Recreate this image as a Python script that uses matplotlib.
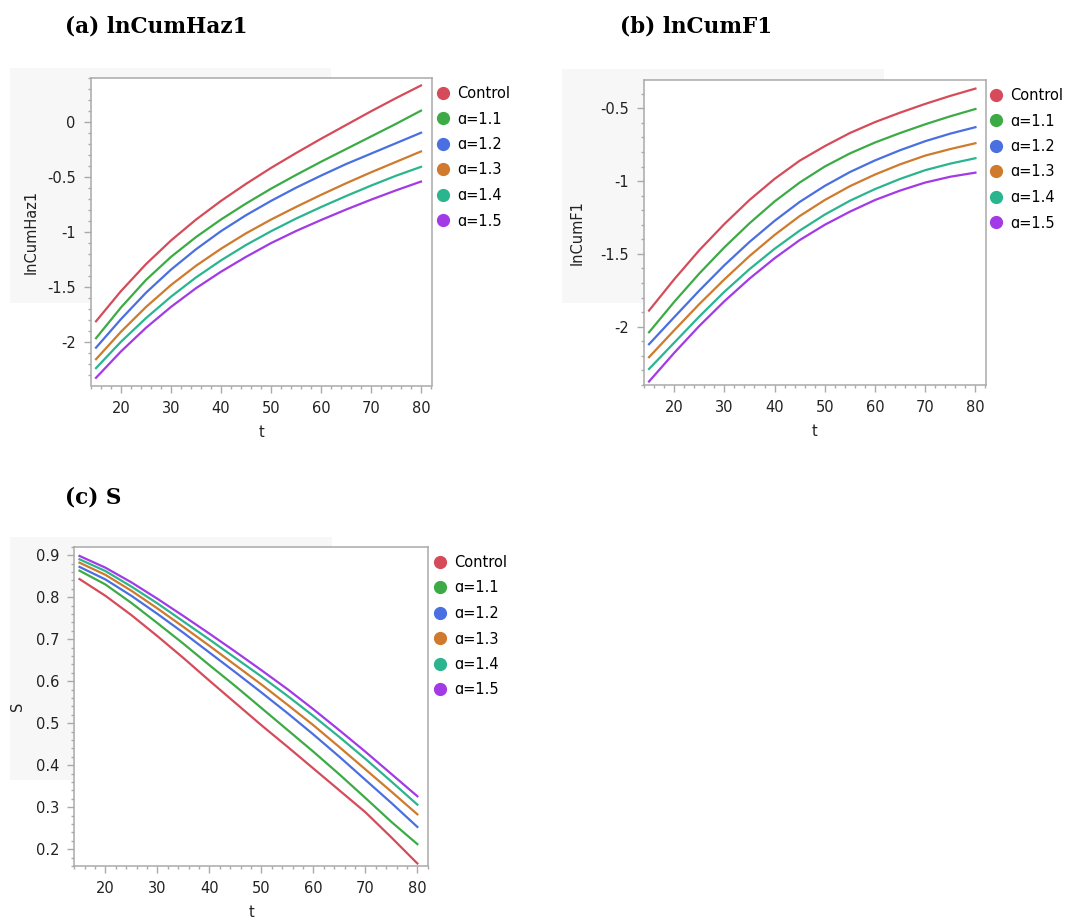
import matplotlib
matplotlib.use("Agg")
import matplotlib.pyplot as plt
from matplotlib.lines import Line2D
from matplotlib.patches import Rectangle
from matplotlib.ticker import MultipleLocator

# time grid
t = [15, 20, 25, 30, 35, 40, 45, 50, 55, 60, 65, 70, 75, 80]

labels = ["Control", "\u0251=1.1", "\u0251=1.2", "\u0251=1.3", "\u0251=1.4", "\u0251=1.5"]
colors = ["#d64b5a", "#3cab46", "#4a6fe0", "#cf7a2c", "#2ab58e", "#a23ae6"]

# (a) lnCumHaz1
haz_control = [-1.81, -1.535, -1.29, -1.075, -0.885, -0.715, -0.56, -0.415, -0.28, -0.15, -0.025, 0.10, 0.22, 0.335]
haz_a11 = [-1.964, -1.684, -1.434, -1.224, -1.044, -0.884, -0.739, -0.604, -0.479, -0.359, -0.244, -0.129, -0.014, 0.106]
haz_a12 = [-2.05, -1.79, -1.55, -1.34, -1.155, -0.99, -0.845, -0.715, -0.595, -0.485, -0.38, -0.285, -0.19, -0.095]
haz_a13 = [-2.155, -1.905, -1.68, -1.48, -1.305, -1.15, -1.01, -0.885, -0.77, -0.66, -0.555, -0.455, -0.36, -0.265]
haz_a14 = [-2.236, -1.996, -1.781, -1.586, -1.411, -1.256, -1.116, -0.991, -0.876, -0.771, -0.671, -0.576, -0.486, -0.405]
haz_a15 = [-2.324, -2.084, -1.869, -1.679, -1.509, -1.359, -1.224, -1.099, -0.989, -0.889, -0.794, -0.704, -0.619, -0.539]

# (b) lnCumF1
f_control = [-1.889, -1.675, -1.475, -1.295, -1.13, -0.985, -0.86, -0.76, -0.67, -0.595, -0.53, -0.47, -0.415, -0.365]
f_a11 = [-2.038, -1.83, -1.635, -1.455, -1.29, -1.14, -1.01, -0.90, -0.81, -0.735, -0.67, -0.61, -0.555, -0.505]
f_a12 = [-2.12, -1.935, -1.752, -1.578, -1.418, -1.273, -1.143, -1.033, -0.938, -0.858, -0.788, -0.726, -0.674, -0.63]
f_a13 = [-2.209, -2.025, -1.845, -1.675, -1.515, -1.37, -1.24, -1.13, -1.035, -0.955, -0.885, -0.825, -0.78, -0.74]
f_a14 = [-2.29, -2.11, -1.93, -1.76, -1.605, -1.465, -1.34, -1.23, -1.135, -1.055, -0.985, -0.925, -0.88, -0.843]
f_a15 = [-2.376, -2.18, -1.995, -1.825, -1.67, -1.53, -1.405, -1.30, -1.21, -1.13, -1.065, -1.01, -0.97, -0.942]

# (c) S
s_control = [0.843, 0.803, 0.757, 0.707, 0.655, 0.601, 0.548, 0.495, 0.444, 0.392, 0.34, 0.288, 0.228, 0.166]
s_a11 = [0.863, 0.830, 0.786, 0.738, 0.689, 0.638, 0.588, 0.536, 0.484, 0.432, 0.378, 0.322, 0.265, 0.212]
s_a12 = [0.872, 0.842, 0.803, 0.760, 0.715, 0.668, 0.621, 0.573, 0.524, 0.473, 0.420, 0.365, 0.310, 0.253]
s_a13 = [0.882, 0.853, 0.815, 0.773, 0.729, 0.684, 0.638, 0.592, 0.544, 0.495, 0.443, 0.390, 0.337, 0.283]
s_a14 = [0.890, 0.862, 0.825, 0.785, 0.742, 0.699, 0.655, 0.611, 0.565, 0.517, 0.467, 0.415, 0.361, 0.306]
s_a15 = [0.898, 0.870, 0.835, 0.796, 0.755, 0.713, 0.670, 0.626, 0.581, 0.533, 0.483, 0.432, 0.379, 0.326]

W, H = 1071, 922
TICK_FS = 10.5
GRID = "#aaaaaa"


def px_axes(fig, left, top, right, bottom):
    ax = fig.add_axes([left / W, 1 - bottom / H, (right - left) / W, (bottom - top) / H])
    ax.set_zorder(2)
    return ax


def gray_bg(fig, left, top, right, bottom):
    fig.patches.append(Rectangle((left / W, 1 - bottom / H), (right - left) / W, (bottom - top) / H,
                                 transform=fig.transFigure, facecolor="#f7f7f7", edgecolor="none", zorder=-1))


def draw_panel(fig, box, series, ylim, ymajor, yminor, ylabel, ylab_x, title, title_xy, leg_xy):
    ax = px_axes(fig, *box)
    for ys, c, lab in zip(series, colors, labels):
        ax.plot(t, ys, color=c, lw=1.6, label=lab)
    ax.set_xlim(14.0, 82.1)
    ax.set_ylim(*ylim)
    ax.xaxis.set_major_locator(MultipleLocator(10))
    ax.xaxis.set_minor_locator(MultipleLocator(2))
    ax.yaxis.set_major_locator(MultipleLocator(ymajor))
    ax.yaxis.set_minor_locator(MultipleLocator(yminor))
    ax.yaxis.set_major_formatter(plt.FuncFormatter(lambda v, p: ("%g" % round(v, 3))))
    for s in ax.spines.values():
        s.set_color(GRID)
        s.set_linewidth(1.1)
    ax.tick_params(which="major", length=5, width=1, color=GRID, labelsize=TICK_FS, labelcolor="#222222", pad=6)
    ax.tick_params(which="minor", length=2.5, width=1, color=GRID)
    ax.set_xlabel("t", fontsize=TICK_FS, color="#222222", labelpad=6.5)
    ax.set_ylabel(ylabel, fontsize=TICK_FS, color="#222222")
    ax.yaxis.set_label_coords(ylab_x, 0.5)
    handles = [Line2D([], [], ls="none", marker="o", ms=8.5, mfc=c, mec=c) for c in colors]
    ax.legend(handles, labels, loc="upper left", bbox_to_anchor=(leg_xy[0] / W, 1 - leg_xy[1] / H),
              bbox_transform=fig.transFigure, frameon=False, fontsize=TICK_FS, borderpad=0,
              borderaxespad=0, handlelength=0.8, handletextpad=0.6, labelspacing=0.72)
    fig.text(title_xy[0] / W, 1 - title_xy[1] / H, title, fontsize=15.5, family="DejaVu Serif",
             fontweight="bold", va="center", ha="left")
    return ax


fig = plt.figure(figsize=(W / 100, H / 100), dpi=100)

gray_bg(fig, 10, 68, 331, 303)
gray_bg(fig, 562, 69, 884, 303)
gray_bg(fig, 10, 537, 332, 780)

draw_panel(fig, (91, 78, 431.5, 385.5),
           [haz_control, haz_a11, haz_a12, haz_a13, haz_a14, haz_a15],
           (-2.394, 0.403), 0.5, 0.1, "lnCumHaz1", -0.153,
           "(a) lnCumHaz1", (65, 27), (437, 86))
draw_panel(fig, (644, 80, 986, 385),
           [f_control, f_a11, f_a12, f_a13, f_a14, f_a15],
           (-2.40, -0.306), 0.5, 0.1, "lnCumF1", -0.175,
           "(b) lnCumF1", (620, 27), (990, 88))
draw_panel(fig, (74.3, 546.7, 428.3, 866),
           [s_control, s_a11, s_a12, s_a13, s_a14, s_a15],
           (0.16, 0.92), 0.1, 0.02, "S", -0.139,
           "(c) S", (65, 497), (434, 555))

fig.savefig("out.png", dpi=100)
